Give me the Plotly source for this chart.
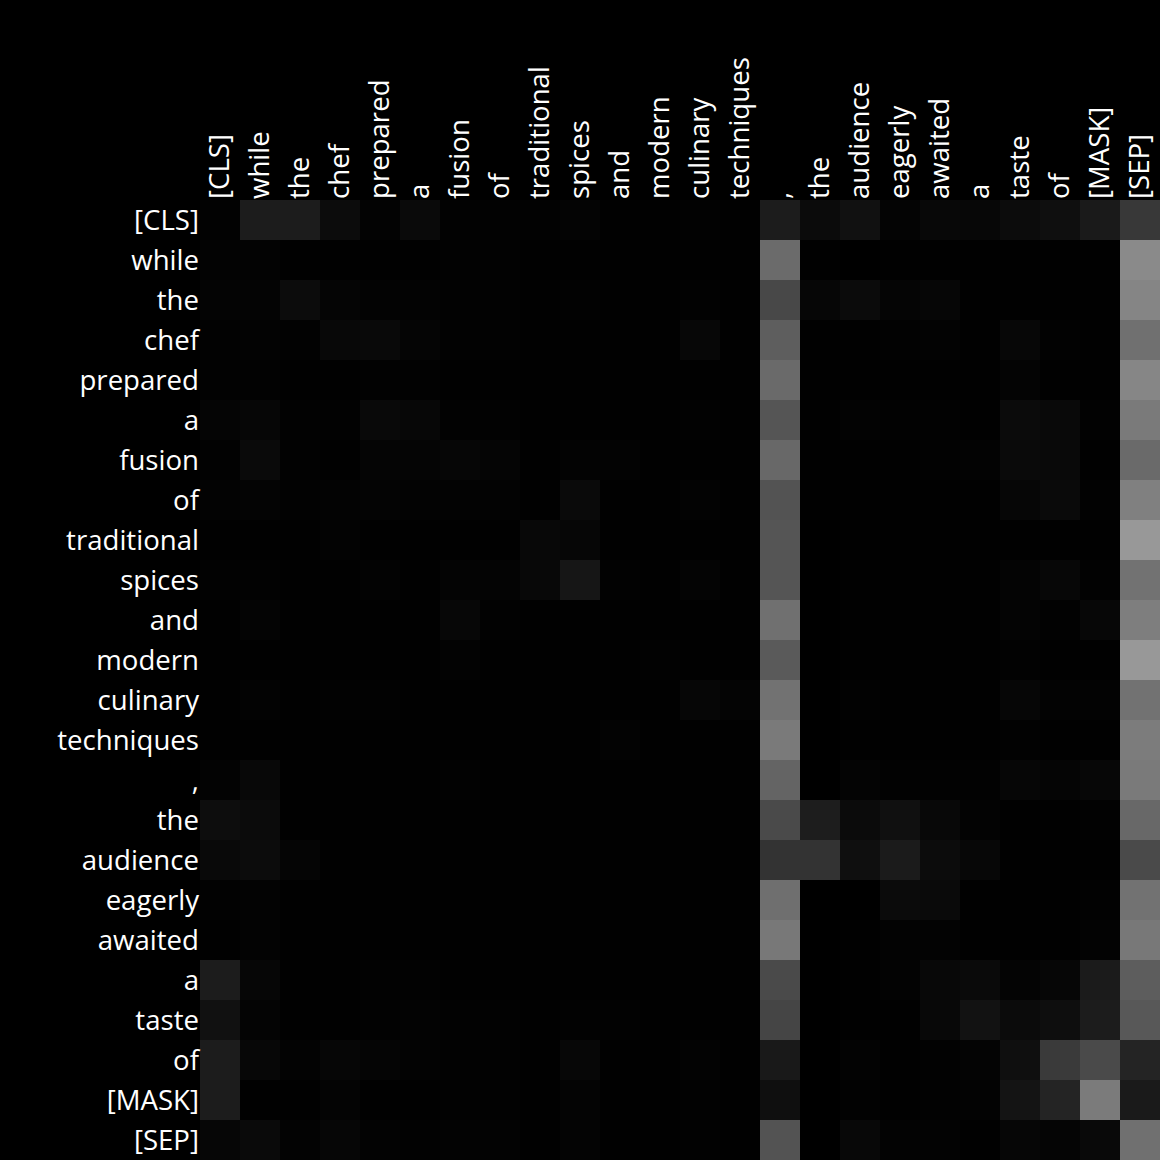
import plotly.graph_objects as go

tokens = ["[CLS]", "while", "the", "chef", "prepared", "a", "fusion", "of",
          "traditional", "spices", "and", "modern", "culinary", "techniques",
          ",", "the", "audience", "eagerly", "awaited", "a", "taste", "of",
          "[MASK]", "[SEP]"]

# attention weights (row = query token, column = key token)
attention = [
    [.008,.110,.110,.047,.012,.039,.008,.008,.008,.016,.004,.004,.008,.004,.110,.043,.067,.016,.031,.027,.047,.059,.102,.220],
    [.012,.012,.004,.004,.004,.004,.008,.008,.004,.004,.004,.004,.004,.004,.420,.004,0,.004,.004,.004,.004,.004,.004,.541],
    [.016,.016,.047,.020,.012,.012,.008,.008,.004,.008,.004,.004,.008,.004,.282,.024,.043,.020,.024,.004,.004,.004,.004,.522],
    [.008,.012,.008,.031,.035,.020,.008,.008,.004,.004,.004,.004,.027,.004,.369,.004,.004,.008,.012,.004,.027,.008,.004,.439],
    [.008,.008,.004,.004,.008,.008,.004,.004,.004,.004,.004,.004,.004,.004,.416,.004,.004,.004,.004,.004,.016,.004,.004,.525],
    [.020,.024,.008,.008,.035,.027,.008,.008,.004,.004,.004,.004,.008,.004,.333,.004,.012,.008,.008,.004,.043,.035,.008,.478],
    [.008,.039,.008,.004,.020,.020,.024,.020,.004,.012,.012,.004,.004,.004,.408,.004,.004,.004,.008,.012,.039,.035,.004,.416],
    [.012,.016,.008,.012,.016,.012,.012,.012,.004,.039,.004,.004,.012,.004,.325,.004,.004,.004,.004,.004,.024,.039,.008,.502],
    [.004,.004,.004,.012,.004,.004,.004,.004,.031,.024,.004,.004,.004,.004,.333,0,.004,.004,.004,.004,.004,.004,.004,.596],
    [.008,.008,.004,.004,.012,.004,.016,.016,.031,.086,.008,.004,.016,.004,.333,0,.004,.004,.004,.004,.016,.027,.008,.447],
    [.004,.016,.004,.004,.004,.004,.027,.008,.004,.004,.004,.004,.004,.004,.439,0,.004,.004,.004,.004,.016,.008,.027,.494],
    [.004,.004,.004,.004,.004,.004,.012,.004,.004,.004,.004,.008,.004,.004,.353,0,.004,.004,.004,.004,.008,.004,.004,.596],
    [.004,.012,.004,.008,.008,.004,.004,.004,.004,.004,.004,.004,.024,.016,.447,0,.008,.004,.004,.004,.024,.012,.012,.447],
    [.004,.004,.004,.004,.004,.004,.004,.004,.004,.004,.012,.004,.004,.004,.478,0,.004,.004,.004,.004,.008,.004,.004,.486],
    [.012,.031,.004,.004,.004,.004,.008,.004,.004,.004,.004,.004,.004,.004,.392,0,.016,.008,.008,.008,.024,.020,.027,.478],
    [.051,.043,.004,.004,.004,.004,.004,.004,.004,.004,.004,.004,.004,.004,.290,.114,.043,.063,.031,.012,.004,.004,.008,.408],
    [.035,.047,.020,.004,.004,.004,.004,.004,.004,.004,.004,.004,.004,.004,.200,.200,.059,.106,.047,.027,.004,.004,.004,.290],
    [.008,.012,.004,.004,.004,.004,.004,.004,.004,.004,.004,.004,.004,.004,.435,0,0,.043,.039,.004,.004,.004,.008,.447],
    [.004,.012,.004,.004,.004,.004,.004,.004,.004,.004,.004,.004,.004,.004,.471,0,.004,.012,.012,.004,.004,.004,.012,.471],
    [.110,.024,.004,.004,.008,.008,.004,.004,.004,.004,.004,.004,.004,.004,.290,0,.004,.012,.031,.039,.016,.024,.106,.365],
    [.067,.016,.004,.004,.008,.012,.008,.008,.004,.008,.008,.004,.004,.004,.271,0,.004,.004,.031,.071,.043,.055,.110,.345],
    [.110,.027,.012,.024,.020,.012,.008,.008,.004,.027,.004,.004,.012,.004,.098,0,.012,.004,.008,.016,.059,.227,.290,.141],
    [.110,.004,.004,.016,.004,.004,.008,.008,.004,.016,.004,.004,.008,.004,.059,0,.008,.004,.008,.012,.078,.141,.482,.102],
    [.024,.039,.012,.024,.012,.008,.012,.012,.004,.016,.004,.004,.008,.004,.325,0,.031,.012,.012,.004,.024,.020,.035,.439],
]

positions = list(range(len(tokens)))

fig = go.Figure(
    go.Heatmap(
        z=attention,
        x=positions,
        y=positions,
        colorscale=[[0, "#000000"], [1, "#ffffff"]],
        zmin=0,
        zmax=1,
        showscale=False,
        hoverinfo="skip",
    )
)

fig.update_layout(
    width=1160,
    height=1160,
    margin=dict(l=200, r=0, t=200, b=0, pad=0),
    paper_bgcolor="#000000",
    plot_bgcolor="#000000",
    font=dict(family="Open Sans", size=27.6, color="#ffffff"),
    xaxis=dict(
        side="top",
        tickmode="array",
        tickvals=positions,
        ticktext=tokens,
        tickangle=-90,
        showgrid=False,
        zeroline=False,
        showline=False,
        ticks="",
        range=[-0.5, len(tokens) - 0.5],
    ),
    yaxis=dict(
        tickmode="array",
        tickvals=positions,
        ticktext=tokens,
        showgrid=False,
        zeroline=False,
        showline=False,
        ticks="",
        range=[len(tokens) - 0.5, -0.5],
    ),
)

fig.write_html("out.html")
